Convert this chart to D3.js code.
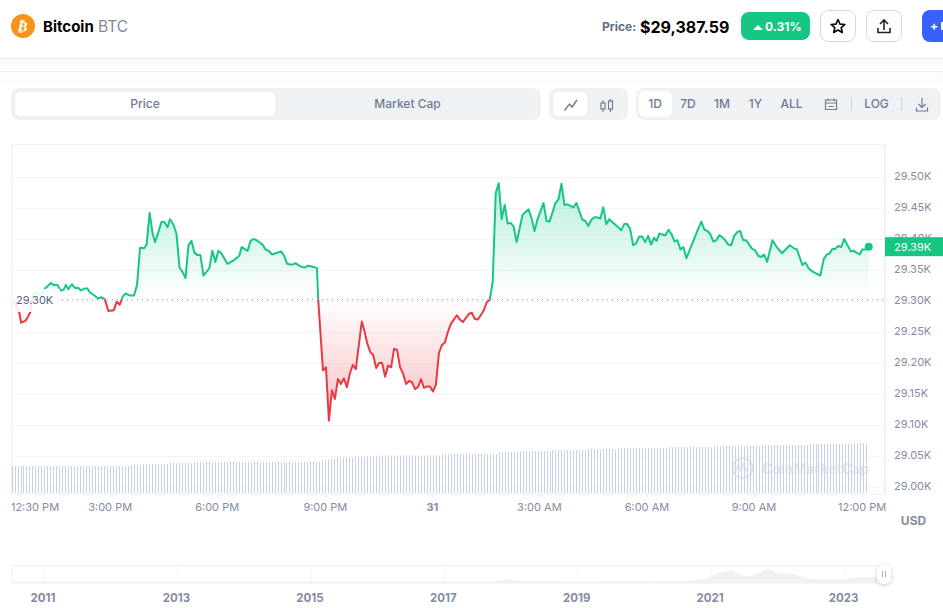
<!DOCTYPE html>
<html>
<head>
<meta charset="utf-8">
<script src="https://cdn.jsdelivr.net/npm/d3@7"></script>
<style>
html,body{margin:0;padding:0;background:#fff;overflow:hidden;}
svg{display:block;font-family:Inter,"Noto Sans",sans-serif;}
</style>
</head>
<body>
<div id="chart"></div>
<script>
// minutes after 12:30 PM and the price at that moment
const minutes = [-12,-2,1,8,11,16,21,27,33,41,51,55,62,67,72,76,80,86,91,97,101,107,112,116,122,130,136,141,147,156,161,166,171,176,183,190,195,200,207,211,216,221,225,230,236,241,246,250,256,261,266,271,276,281,286,291,296,301,306,316,321,326,331,336,346,356,366,370,380,385,390,395,405,410,415,421,436,441,446,451,456,460,466,471,476,481,486,496,498,506,511,516,521,526,531,536,541,546,551,556,561,571,575,580,585,590,595,600,605,610,615,620,625,630,635,640,645,650,655,660,665,670,675,680,685,690,695,700,705,710,715,720,730,735,740,750,755,760,765,770,775,780,785,790,795,800,805,810,815,820,825,830,840,850,855,860,865,875,880,885,895,900,905,910,915,925,930,940,945,950,955,960,965,970,975,980,985,995,1000,1005,1010,1015,1020,1025,1030,1035,1040,1045,1050,1055,1060,1064,1069,1074,1079,1084,1089,1094,1099,1104,1109,1114,1124,1134,1139,1144,1149,1154,1159,1164,1169,1174,1179,1184,1189,1194,1199,1204,1209,1214,1224,1229,1234,1239,1244,1249,1258,1265,1274,1287,1294,1299,1308,1313,1319,1326,1338,1344,1349,1354,1358,1363,1368,1373,1378,1389,1394,1404,1408,1413,1419];
const prices = [29302,29281,29265,29268,29272,29281,29311,29313,29308,29320,29329,29326,29326,29317,29318,29326,29319,29327,29321,29321,29317,29320,29320,29314,29310,29304,29306,29303,29284,29285,29299,29294,29307,29312,29309,29309,29326,29386,29385,29391,29442,29409,29395,29409,29428,29427,29419,29432,29423,29408,29354,29347,29337,29390,29397,29378,29374,29374,29341,29353,29381,29363,29381,29377,29360,29365,29373,29387,29381,29397,29400,29398,29391,29383,29381,29375,29380,29373,29360,29359,29359,29361,29357,29355,29354,29357,29356,29353,29303,29188,29193,29107,29156,29142,29174,29166,29175,29161,29183,29197,29190,29267,29253,29232,29218,29213,29192,29200,29200,29178,29196,29193,29223,29221,29193,29183,29166,29171,29169,29158,29161,29174,29160,29162,29162,29154,29165,29216,29229,29233,29250,29263,29277,29270,29266,29279,29281,29271,29270,29277,29285,29298,29302,29331,29474,29490,29432,29455,29425,29426,29420,29395,29439,29448,29433,29413,29432,29458,29429,29428,29458,29464,29489,29455,29456,29451,29458,29431,29429,29421,29431,29435,29435,29433,29451,29424,29432,29423,29419,29414,29424,29424,29416,29390,29393,29404,29404,29395,29405,29391,29402,29397,29409,29407,29406,29415,29408,29396,29398,29383,29387,29369,29393,29417,29428,29415,29413,29408,29396,29398,29406,29403,29398,29391,29390,29405,29411,29413,29398,29398,29384,29382,29373,29371,29375,29363,29398,29387,29377,29390,29385,29383,29358,29362,29352,29347,29341,29368,29375,29377,29384,29384,29389,29387,29400,29380,29381,29375,29383,29383,29387];

const basePrice = 29303;
const lastPrice = 29387.59;

// volume is flat for stretches: value (billions) from each start minute on
const volumeStart = [-15,190,205,250,290,505,520,530,560,600,705,800,840,890,950,1005,1085,1160,1240,1320,1392];
const volumeLevel = [10.8,11.2,11.6,12,12.4,13.4,13.8,14.2,14.6,15,15.6,16.4,16.8,17.2,17.6,18,18.4,18.8,19.2,19.6,20];
const volumeBarEvery = 5;
const volumeEnd = 1419;

const yTicks = [29000,29050,29100,29150,29200,29250,29300,29350,29400,29450,29500];
const xTickMinutes = [0,150,329,510,689,868,1048,1227,1408];
const xTickLabels = ["12:30 PM","3:00 PM","6:00 PM","9:00 PM","31","3:00 AM","6:00 AM","9:00 AM","12:00 PM"];

// overview strip: whole history, thousands of USD
const navYears = [2010.5,2015,2016.9,2017.3,2017.6,2017.8,2017.95,2018.1,2018.3,2018.6,2018.95,2019.3,2019.5,2019.8,2020.2,2020.6,2020.9,2021.0,2021.1,2021.18,2021.28,2021.4,2021.55,2021.7,2021.86,2022.0,2022.2,2022.35,2022.5,2022.9,2023.0,2023.2,2023.58];
const navPrices = [0.2,0.4,1,1.5,3,6,18,10,8,7,3.5,6,11,8,6,11,18,33,48,52,62,42,32,47,65,45,42,30,20,17,17,27,29];
const navTickYears = [2011,2013,2015,2017,2019,2021,2023];

const width = 943, height = 608;
const green = "#16c784", red = "#ea3943", textGrey = "#858ca2", chromeGrey = "#eff2f5", labelGrey = "#616e85";

const svg = d3.select("#chart").append("svg").attr("width", width).attr("height", height);
const defs = svg.append("defs");

const x = d3.scaleLinear().domain([0, 1419]).range([20.5, 868.7]);
const y = d3.scaleLinear().domain([29000, 29500]).range([487, 177]);
const yVol = d3.scaleLinear().domain([0, 20]).range([493, 443]);
const xNav = d3.scaleLinear().domain([2011, 2023]).range([44.5, 845]);
const yNav = d3.scaleLinear().domain([0, 65]).range([583, 569]);

// ---- top bar
const bg = defs.append("linearGradient").attr("id","pageFade").attr("x1",0).attr("x2",0).attr("y1",0).attr("y2",1);
bg.append("stop").attr("offset",0).attr("stop-color","#f8f9fa");
bg.append("stop").attr("offset",1).attr("stop-color","#fff");
svg.append("rect").attr("x",0).attr("y",58).attr("width",width).attr("height",13).attr("fill","url(#pageFade)");
svg.append("rect").attr("x",0).attr("y",71).attr("width",width).attr("height",18).attr("fill","url(#pageFade)").attr("opacity",0.6);
svg.append("line").attr("x1",0).attr("x2",width).attr("y1",58.5).attr("y2",58.5).attr("stroke","#e9ecf0");
svg.append("line").attr("x1",0).attr("x2",width).attr("y1",71.5).attr("y2",71.5).attr("stroke","#eff2f5");

const head = svg.append("g");
head.append("circle").attr("cx",23).attr("cy",26).attr("r",12).attr("fill","#f7931a");
head.append("text").attr("x",23).attr("y",31).attr("text-anchor","middle").attr("transform","rotate(12 23 26)")
    .attr("fill","#fff").attr("font-size",14).attr("font-weight",700).attr("font-family","'DejaVu Sans'").text("₿");
head.append("text").attr("x",43).attr("y",32).attr("font-size",15).attr("font-weight",700).attr("fill","#000").text("Bitcoin");
head.append("text").attr("x",98).attr("y",32).attr("font-size",15.5).attr("fill","#808a9d").text("BTC");
head.append("text").attr("x",602).attr("y",31).attr("font-size",12).attr("font-weight",700).attr("fill",labelGrey).text("Price:");
head.append("text").attr("x",640).attr("y",32.5).attr("font-size",16).attr("font-weight",700).attr("fill","#000").text("$29,387.59");
head.append("rect").attr("x",741).attr("y",12).attr("width",69).attr("height",28).attr("rx",8).attr("fill",green);
head.append("path").attr("d","M754 29.5l4-4 4 4z").attr("fill","#fff").attr("stroke","#fff").attr("stroke-linejoin","round");
head.append("text").attr("x",765).attr("y",31).attr("font-size",12).attr("font-weight",700).attr("fill","#fff").text("0.31%");

[820,866].forEach(bx=>{
    head.append("rect").attr("x",bx+0.5).attr("y",10.5).attr("width",35).attr("height",31).attr("rx",8)
        .attr("fill","#fff").attr("stroke","#cfd6e4");
});
head.append("path").attr("d","M838 19.5l2 4.6 4.9.4-3.7 3.2 1.1 4.8-4.3-2.5-4.3 2.5 1.1-4.8-3.7-3.2 4.9-.4z")
    .attr("fill","none").attr("stroke","#000").attr("stroke-width",1.6).attr("stroke-linejoin","round");
head.append("path").attr("d","M884 30v-9.5M880 24l4-4 4 4M878 28v4.5h12V28")
    .attr("fill","none").attr("stroke","#222").attr("stroke-width",1.6);
head.append("rect").attr("x",922).attr("y",10).attr("width",40).attr("height",32).attr("rx",8).attr("fill","#3861fb");
head.append("text").attr("x",930).attr("y",30).attr("font-size",12).attr("font-weight",700).attr("fill","#fff").text("+");
head.append("rect").attr("x",941).attr("y",22).attr("width",2).attr("height",8).attr("fill","#fff");

// ---- toggles above the chart
const bar = svg.append("g");
[[11,530,88,32],[549,79,88,32],[636,305,88,32]].forEach(r=>{
    bar.append("rect").attr("x",r[0]).attr("width",r[1]).attr("y",r[2]).attr("height",r[3]).attr("rx",8).attr("fill",chromeGrey);
});
[[15,260,92,24],[553,34,92,24],[639,33,91,26]].forEach(r=>{
    bar.append("rect").attr("x",r[0]).attr("width",r[1]).attr("y",r[2]).attr("height",r[3]).attr("rx",6).attr("fill","#fff");
});
const toggleLabels = ["Price","Market Cap","1D","7D","1M","1Y","ALL","LOG"];
const toggleX = [145,407.5,655,688,722,755.5,791.5,876.5];
bar.selectAll(".toggle").data(toggleLabels).join("text").attr("class","toggle")
    .attr("x",(d,i)=>toggleX[i]).attr("y",(d,i)=>i===7?107.5:108).attr("text-anchor","middle")
    .attr("font-size",12).attr("font-weight",500).attr("fill","#6d7a90").text(d=>d);
bar.append("path").attr("d","M564.5 110.5l5-6.5 2.5 3 5-7").attr("fill","none").attr("stroke","#6d7a90").attr("stroke-width",1.4);
bar.append("path").attr("d","M603 100v3M603 109v3M610.5 99v2M610.5 109v3").attr("stroke","#6d7a90").attr("stroke-width",1.2);
bar.append("rect").attr("x",601).attr("y",103).attr("width",4).attr("height",6).attr("fill","none").attr("stroke","#6d7a90").attr("stroke-width",1.2);
bar.append("rect").attr("x",608.5).attr("y",101).attr("width",4).attr("height",8).attr("fill","none").attr("stroke","#6d7a90").attr("stroke-width",1.2);
bar.append("path").attr("d","M825.5 100h11v9.5h-11zM825.5 103h11M828 98.5v2.5M834 98.5v2.5M828.5 106.5h5")
    .attr("fill","none").attr("stroke","#6d7a90").attr("stroke-width",1.2);
bar.append("path").attr("d","M851.5 97v14M901.5 97v14").attr("stroke","#cfd6e4");
bar.append("path").attr("d","M922 98v9M918.5 104l3.5 3.5 3.5-3.5M916.5 107.5v3.5h11v-3.5")
    .attr("fill","none").attr("stroke","#6d7a90").attr("stroke-width",1.2);

// ---- chart frame and grid
const grid = svg.append("g");
grid.selectAll("line").data(yTicks).join("line")
    .attr("x1",12).attr("x2",885).attr("y1",d=>y(d)+0.5).attr("y2",d=>y(d)+0.5).attr("stroke","#f3f5f8");
svg.append("path").attr("d","M11.5 494V144.5H885").attr("fill","none").attr("stroke","#eff2f5");
svg.append("line").attr("x1",885).attr("x2",885).attr("y1",144).attr("y2",495).attr("stroke","#eff2f5").attr("stroke-width",2);
svg.append("line").attr("x1",11).attr("x2",885).attr("y1",494.5).attr("y2",494.5).attr("stroke","#eff2f5");

// ---- volume
const volumeAt = m=>volumeLevel[d3.bisectRight(volumeStart, m) - 1];
svg.append("g").selectAll("rect").data(d3.range(volumeStart[0], volumeEnd, volumeBarEvery)).join("rect")
    .attr("x",d=>Math.round(x(d))).attr("width",1)
    .attr("y",d=>yVol(volumeAt(d))).attr("height",d=>yVol(0)-yVol(volumeAt(d)))
    .attr("fill","#c6d2e3");

// watermark
const mark = svg.append("g").attr("opacity",0.6);
mark.append("circle").attr("cx",742.5).attr("cy",468).attr("r",10).attr("fill","none").attr("stroke","#cfd6e4").attr("stroke-width",2.2);
mark.append("path").attr("d","M735 473l3-8 3 6 2.5-7 3 7 2.5-3").attr("fill","none").attr("stroke","#cfd6e4").attr("stroke-width",1.8);
mark.append("text").attr("x",762).attr("y",473.5).attr("font-size",14).attr("font-weight",700).attr("fill","#cfd6e4").text("CoinMarketCap");

// ---- price line, split in two at the base price
const data = minutes.map((m,i)=>({m:m, p:prices[i]}));
const baseY = y(basePrice);
const topY = y(d3.max(prices));
const lowY = y(d3.min(prices));

defs.append("clipPath").attr("id","aboveBase").append("rect").attr("x",0).attr("y",0).attr("width",width).attr("height",baseY);
defs.append("clipPath").attr("id","belowBase").append("rect").attr("x",0).attr("y",baseY).attr("width",width).attr("height",height-baseY);

const gradGreen = defs.append("linearGradient").attr("id","fillGreen").attr("gradientUnits","userSpaceOnUse")
    .attr("x1",0).attr("x2",0).attr("y1",topY).attr("y2",baseY);
gradGreen.append("stop").attr("offset",0).attr("stop-color",green).attr("stop-opacity",0.3);
gradGreen.append("stop").attr("offset",1).attr("stop-color",green).attr("stop-opacity",0);
const gradRed = defs.append("linearGradient").attr("id","fillRed").attr("gradientUnits","userSpaceOnUse")
    .attr("x1",0).attr("x2",0).attr("y1",baseY).attr("y2",lowY);
gradRed.append("stop").attr("offset",0).attr("stop-color",red).attr("stop-opacity",0);
gradRed.append("stop").attr("offset",1).attr("stop-color",red).attr("stop-opacity",0.32);

const area = d3.area().x(d=>x(d.m)).y0(baseY).y1(d=>y(d.p));
const line = d3.line().x(d=>x(d.m)).y(d=>y(d.p));

svg.append("path").datum(data).attr("d",area).attr("fill","url(#fillGreen)").attr("clip-path","url(#aboveBase)");
svg.append("path").datum(data).attr("d",area).attr("fill","url(#fillRed)").attr("clip-path","url(#belowBase)");
svg.append("path").datum(data).attr("d",line).attr("fill","none").attr("stroke",green).attr("stroke-width",2)
    .attr("stroke-linejoin","round").attr("clip-path","url(#aboveBase)");
svg.append("path").datum(data).attr("d",line).attr("fill","none").attr("stroke",red).attr("stroke-width",2)
    .attr("stroke-linejoin","round").attr("clip-path","url(#belowBase)");

svg.append("line").attr("x1",12).attr("x2",885).attr("y1",baseY+0.5).attr("y2",baseY+0.5)
    .attr("stroke","#8d95a5").attr("stroke-dasharray","1 4");

svg.append("circle").attr("cx",x(minutes[minutes.length-1])).attr("cy",y(lastPrice)).attr("r",4).attr("fill",green);

// base price tag on the left covers the start of the line
svg.append("rect").attr("x",12).attr("y",289).attr("width",48).attr("height",23).attr("fill","#fff").attr("opacity",0.88);
svg.append("text").attr("x",16).attr("y",304).attr("font-size",11).attr("fill","#58667e").text("29.30K");

// ---- axes
const yAxis = svg.append("g").attr("transform","translate(885,0)")
    .call(d3.axisRight(y).tickValues(yTicks).tickSize(0).tickPadding(9).tickFormat(d=>(d/1000).toFixed(2)+"K"));
yAxis.select(".domain").remove();
yAxis.selectAll("text").attr("fill",textGrey).attr("font-size",11).attr("font-family","Inter").attr("dy","0.25em");

svg.append("rect").attr("x",885).attr("y",y(lastPrice)-9.5).attr("width",58).attr("height",19).attr("fill",green);
svg.append("text").attr("x",894).attr("y",y(lastPrice)+4).attr("font-size",11).attr("fill","#fff").text("29.39K");

const xAxis = svg.append("g").attr("transform","translate(0,494.5)")
    .call(d3.axisBottom(x).tickValues(xTickMinutes).tickSize(3).tickPadding(6).tickFormat((d,i)=>xTickLabels[i]));
xAxis.select(".domain").remove();
xAxis.selectAll("line").attr("stroke","#e3e7ed");
xAxis.selectAll("text").attr("fill",textGrey).attr("font-size",11).attr("font-family","Inter")
    .attr("font-weight",(d,i)=>xTickLabels[i]==="31"?700:400)
    .attr("dx",(d,i)=>i===0?14:-0.5);

svg.append("text").attr("x",913.5).attr("y",524.5).attr("text-anchor","middle").attr("font-size",12).attr("font-weight",700).attr("fill",textGrey).text("USD");

// ---- overview strip
const nav = svg.append("g");
nav.append("path").attr("d","M11.5 583V565.5H885").attr("fill","none").attr("stroke","#eff2f5");
nav.selectAll(".navGrid").data(navTickYears).join("line").attr("class","navGrid")
    .attr("x1",d=>xNav(d)).attr("x2",d=>xNav(d)).attr("y1",566).attr("y2",582).attr("stroke","#f3f5f8");
nav.append("path").datum(navYears.map((yr,i)=>({yr:yr, v:navPrices[i]})))
    .attr("d",d3.area().x(d=>xNav(d.yr)).y0(yNav(0)).y1(d=>yNav(d.v)).curve(d3.curveMonotoneX))
    .attr("fill",chromeGrey);
nav.append("rect").attr("x",11).attr("y",581.5).attr("width",874).attr("height",2).attr("fill",chromeGrey);
nav.selectAll(".navLabel").data(navTickYears).join("text").attr("class","navLabel")
    .attr("x",d=>xNav(d)-1.5).attr("y",602).attr("text-anchor","middle")
    .attr("font-size",11.5).attr("font-weight",700).attr("fill",textGrey).text(d=>d);

const shadow = defs.append("filter").attr("id","handleShadow").attr("x","-50%").attr("y","-50%").attr("width","200%").attr("height","200%");
shadow.append("feDropShadow").attr("dx",0).attr("dy",1).attr("stdDeviation",2).attr("flood-color","#58667e").attr("flood-opacity",0.35);
nav.append("rect").attr("x",877).attr("y",565).attr("width",14).attr("height",19).attr("rx",6).attr("fill","#fff").attr("filter","url(#handleShadow)");
nav.append("path").attr("d","M882.5 571v6M885.5 571v6").attr("stroke","#a6b0c3");
</script>
</body>
</html>
